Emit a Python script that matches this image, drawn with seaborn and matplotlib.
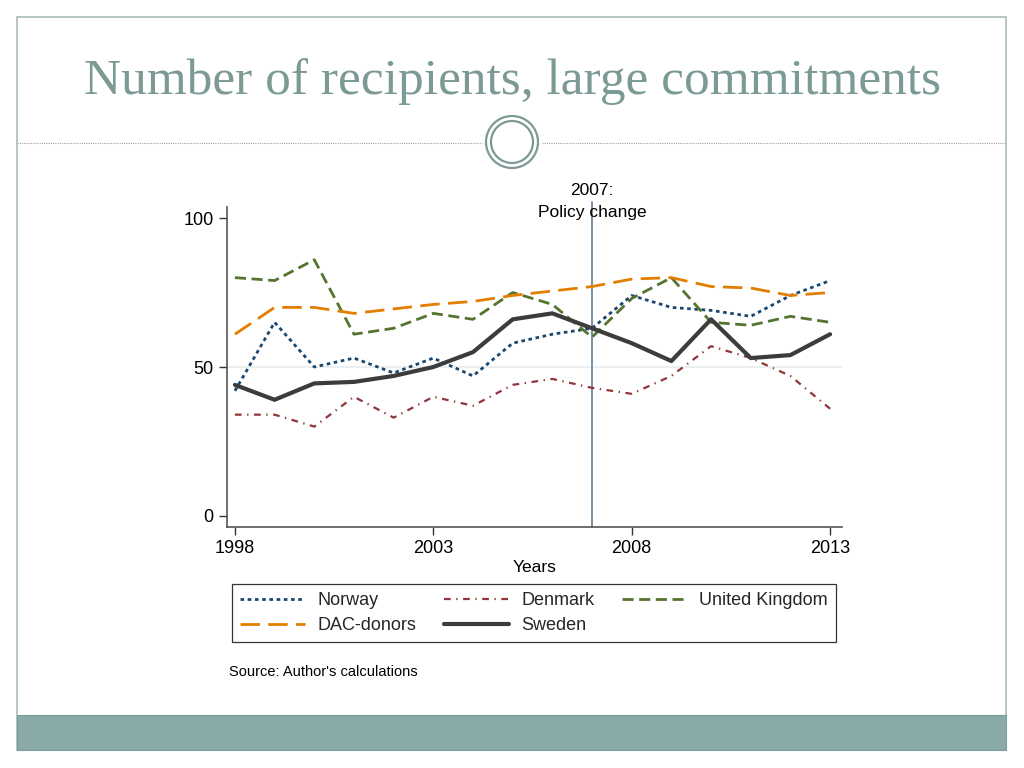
import pandas as pd
import matplotlib.pyplot as plt
import matplotlib.patches as mpatches
from matplotlib.lines import Line2D
import seaborn as sns

# data
years = list(range(1998, 2014))
norway = [42, 65, 50, 53, 48, 53, 47, 58, 61, 63, 74, 70, 69, 67, 74, 79]
denmark = [34, 34, 30, 40, 33, 40, 37, 44, 46, 43, 41, 47, 57, 53, 47, 36]
uk = [80, 79, 86, 61, 63, 68, 66, 75, 71, 60, 73, 80, 65, 64, 67, 65]
dac = [61, 70, 70, 68, 69.5, 71, 72, 74, 75.5, 77, 79.5, 80, 77, 76.5, 74, 75]
sweden = [44, 39, 44.5, 45, 47, 50, 55, 66, 68, 63, 58, 52, 66, 53, 54, 61]
policy_year = 2007

df = pd.DataFrame({"Years": years, "Norway": norway, "Denmark": denmark,
                   "United Kingdom": uk, "DAC-donors": dac, "Sweden": sweden})

sns.set_theme(style="white")
plt.rcParams["font.family"] = ["Liberation Sans", "DejaVu Sans"]

fig = plt.figure(figsize=(10.24, 7.68), dpi=100)
fig.patch.set_facecolor("white")

# slide frame, title, separator, bottom band
fig.patches.append(mpatches.Rectangle((17 / 1024, 1 - 750 / 768), 989 / 1024, 733 / 768,
                                      transform=fig.transFigure, fill=False,
                                      edgecolor="#a9bdb9", linewidth=1.2))
fig.patches.append(mpatches.Rectangle((17 / 1024, 1 - 750 / 768), 989 / 1024, 35 / 768,
                                      transform=fig.transFigure, facecolor="#8aaaaa",
                                      edgecolor="#7f9a9a", linewidth=0.8))
fig.text(512 / 1024, 1 - 82 / 768, "Number of recipients, large commitments",
         ha="center", va="center", fontsize=37, color="#7c9a95",
         family=["Liberation Serif", "DejaVu Serif"])
fig.lines.append(Line2D([17 / 1024, 482 / 1024], [1 - 143 / 768] * 2, transform=fig.transFigure,
                        color="#a0a0a0", linewidth=0.8, linestyle=(0, (1, 1))))
fig.lines.append(Line2D([542 / 1024, 1006 / 1024], [1 - 143 / 768] * 2, transform=fig.transFigure,
                        color="#a0a0a0", linewidth=0.8, linestyle=(0, (1, 1))))
for r in (26, 21):
    fig.patches.append(mpatches.Ellipse((512 / 1024, 1 - 142 / 768), 2 * r / 1024, 2 * r / 768,
                                        transform=fig.transFigure, fill=False,
                                        edgecolor="#7c9a95", linewidth=1.6))

ax = fig.add_axes([227 / 1024, 1 - 527 / 768, 615 / 1024, 320 / 768])
ax.set_facecolor("white")

ax.axhline(50, color="#e6eef0", linewidth=1.2, zorder=0)
ax.axvline(policy_year, ymax=1.015, color="#7890a8", linewidth=1.4, zorder=1, clip_on=False)

styles = {
    "Norway": dict(color="#1a476f", linewidth=2.0, dashes=(1.3, 1.3)),
    "Denmark": dict(color="#90353b", linewidth=1.6, dashes=(3, 2.5, 0.6, 2.5)),
    "United Kingdom": dict(color="#55752f", linewidth=2.0, dashes=(4, 2)),
    "DAC-donors": dict(color="#e37e00", linewidth=2.0, dashes=(7, 3)),
    "Sweden": dict(color="#3c3c3c", linewidth=3.0),
}
handles = {}
for name, st in styles.items():
    sns.lineplot(data=df, x="Years", y=name, ax=ax, color=st["color"],
                 linewidth=st["linewidth"], label=name, legend=False)
    line = ax.lines[-1]
    if "dashes" in st:
        line.set_dashes(st["dashes"])
    handles[name] = line

ax.set_xlim(1997.8, 2013.3)
ax.set_ylim(-3.7, 103.7)
ax.set_xticks([1998, 2003, 2008, 2013])
ax.set_yticks([0, 50, 100])
ax.set_ylabel("")
ax.set_xlabel("Years", fontsize=12.5, color="black", labelpad=2)
ax.tick_params(axis="both", which="both", direction="out", length=6, width=1,
               color="#333333", labelsize=13, labelcolor="black", left=True, bottom=True)
for side in ["top", "right"]:
    ax.spines[side].set_visible(False)
for side in ["left", "bottom"]:
    ax.spines[side].set_color("#555555")
    ax.spines[side].set_linewidth(1.2)

ax.text(policy_year, 105.5, "2007:\nPolicy change", ha="center", va="center",
        fontsize=12.5, color="black", linespacing=1.55)

order = ["Norway", "DAC-donors", "Denmark", "Sweden", "United Kingdom"]
leg = fig.legend([handles[n] for n in order], order, ncol=3,
                 loc="upper left", bbox_to_anchor=(232 / 1024, 1 - 584 / 768),
                 fontsize=13, frameon=True, fancybox=False, edgecolor="black",
                 handlelength=3.6, handletextpad=0.7, columnspacing=1.5,
                 borderpad=0.45, labelspacing=0.45, borderaxespad=0)
leg.get_frame().set_linewidth(0.9)

fig.text(229 / 1024, 1 - 672 / 768, "Source: Author's calculations",
         ha="left", va="center", fontsize=10.5, color="black")

fig.savefig("out.png", dpi=100, facecolor=fig.get_facecolor())
